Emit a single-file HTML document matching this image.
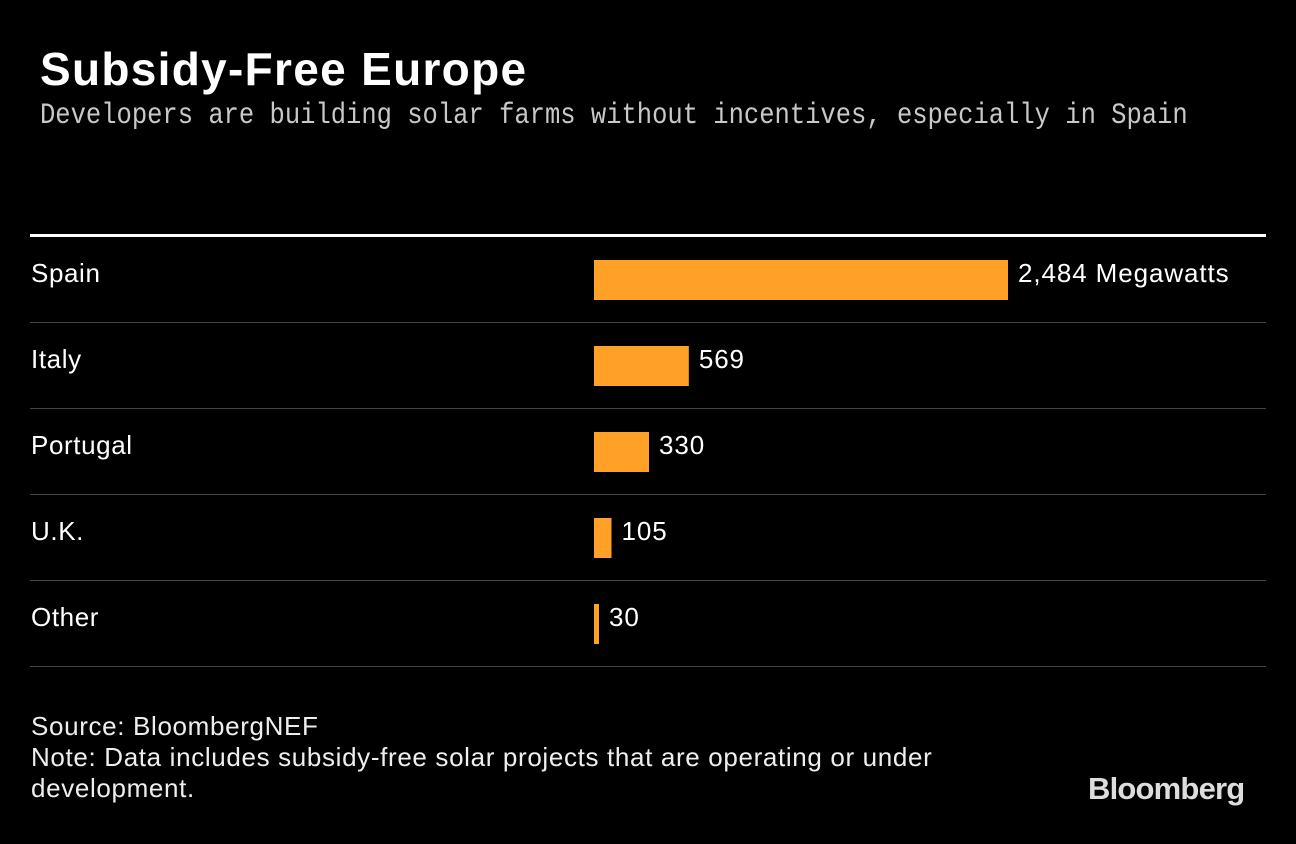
<!DOCTYPE html>
<html><head><meta charset="utf-8"><style>
body{margin:0;background:#000;width:1296px;height:844px;overflow:hidden;font-family:"Liberation Sans",sans-serif;color:#fff}
.t{position:absolute;white-space:nowrap}
</style></head><body>
<div class="t" style="left:40px;top:42px;font-size:46px;font-weight:bold;letter-spacing:1.3px">Subsidy-Free Europe</div>
<div class="t" style="left:40px;top:99px;font-family:'Liberation Mono',monospace;font-size:30px;color:#c8c8c8;transform:scaleX(0.85);transform-origin:0 0">Developers are building solar farms without incentives, especially in Spain</div>
<svg id="chart" style="position:absolute;left:0;top:0" width="1296" height="700"></svg>
<div class="t" style="left:31px;top:711px;font-size:26px;letter-spacing:0.65px;line-height:31px;color:#eee">Source: BloombergNEF<br>Note: Data includes subsidy-free solar projects that are operating or under<br>development.</div>
<div class="t" style="left:1088px;top:771px;font-size:31px;font-weight:bold;letter-spacing:-0.8px;color:#ddd">Bloomberg</div>
<script>
const categories=["Spain","Italy","Portugal","U.K.","Other"];
const values=[2484,569,330,105,30];
const valueLabels=["2,484 Megawatts","569","330","105","30"];
const svg=document.getElementById('chart');
const NS='http://www.w3.org/2000/svg';
const x0=594, scale=414/2484;
function xs(v){return x0+v*scale;}
function mk(t,a){const e=document.createElementNS(NS,t);for(const k in a)e.setAttribute(k,a[k]);svg.appendChild(e);return e;}
const top0=237,rowH=86;
const tl=mk('rect',{x:30,y:234,width:1236,height:3,fill:'#fff'});


categories.forEach((c,i)=>{
  const y=top0+i*rowH;
  const lab=mk('text',{x:31,y:y+45,'font-size':26,'letter-spacing':0.6,fill:'#fff'});lab.textContent=c;
  
  
  const b=mk('rect',{x:x0,y:y+23,width:xs(values[i])-x0,height:40,fill:'#ffa126'});
  
  
  const v=mk('text',{x:xs(values[i])+10,y:y+45,'font-size':26,'letter-spacing':0.9,fill:'#fff'});v.textContent=valueLabels[i];
  
  
  const l=mk('rect',{x:30,y:y+rowH-1,width:1236,height:1,fill:'#444'});
  
  
});
</script>
</body></html>
